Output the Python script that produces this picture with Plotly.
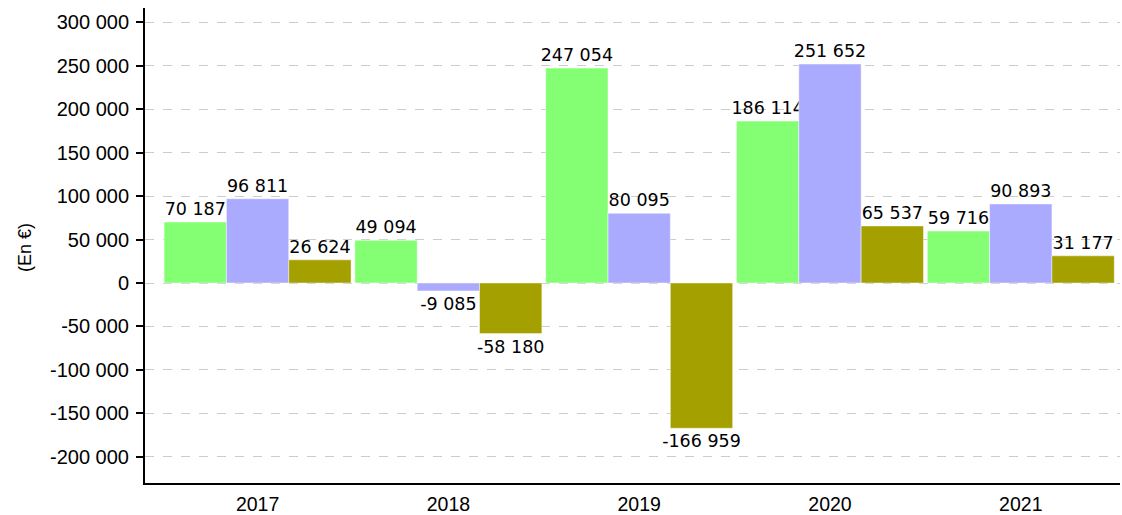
import plotly.graph_objects as go

years = ["2017", "2018", "2019", "2020", "2021"]
serie_a = [70187, 49094, 247054, 186114, 59716]
serie_b = [96811, -9085, 80095, 251652, 90893]
serie_c = [26624, -58180, -166959, 65537, 31177]
tick_vals = [300000, 250000, 200000, 150000, 100000, 50000, 0, -50000, -100000, -150000, -200000]
tick_text = ["300 000", "250 000", "200 000", "150 000", "100 000", "50 000", "0",
             "-50 000", "-100 000", "-150 000", "-200 000"]

colors = ["#84ff74", "#aaaaff", "#a3a000"]


def fmt(v):
    s = f"{abs(v):,}".replace(",", " ")
    return ("-" if v < 0 else "") + s


fig = go.Figure()
for vals, col in zip([serie_a, serie_b, serie_c], colors):
    fig.add_trace(go.Bar(
        x=years, y=vals, marker=dict(color=col, line=dict(color="rgba(255,255,255,0.45)", width=1)),
        text=[fmt(v) for v in vals], textposition="outside", cliponaxis=False,
        constraintext="none",
        textfont=dict(family="DejaVu Sans", size=17.5, color="#000"),
        showlegend=False, hoverinfo="skip",
    ))

fig.update_layout(
    width=1122, height=515,
    margin=dict(l=145, r=2, t=8, b=32, pad=0, autoexpand=False),
    plot_bgcolor="white", paper_bgcolor="white",
    barmode="group", bargap=0.02, bargroupgap=0,
    font=dict(family="Liberation Sans", size=20, color="#000"),
    xaxis=dict(range=[-0.59, 4.52], showline=True, linecolor="#000", linewidth=2,
               showgrid=False, ticks="", tickfont=dict(size=19.5), ticklabelstandoff=3,
               automargin=False),
    yaxis=dict(range=[-229900, 316100], tickvals=tick_vals, ticktext=tick_text,
               showline=True, linecolor="#000", linewidth=2, ticks="outside", ticklen=7,
               tickcolor="#000", tickwidth=2, showgrid=True, gridcolor="#cccccc",
               griddash="dash", gridwidth=1, zeroline=False, tickfont=dict(size=20),
               ticklabelstandoff=3, automargin=False),
    annotations=[dict(text="(En €)", xref="paper", yref="paper", x=-0.123, y=0.495,
                      xanchor="center", yanchor="middle",
                      textangle=-90, showarrow=False, font=dict(size=18, family="Liberation Sans"))],
)

fig.write_html("out.html", config={"displayModeBar": False},
               post_script="document.body.style.margin='0';")
